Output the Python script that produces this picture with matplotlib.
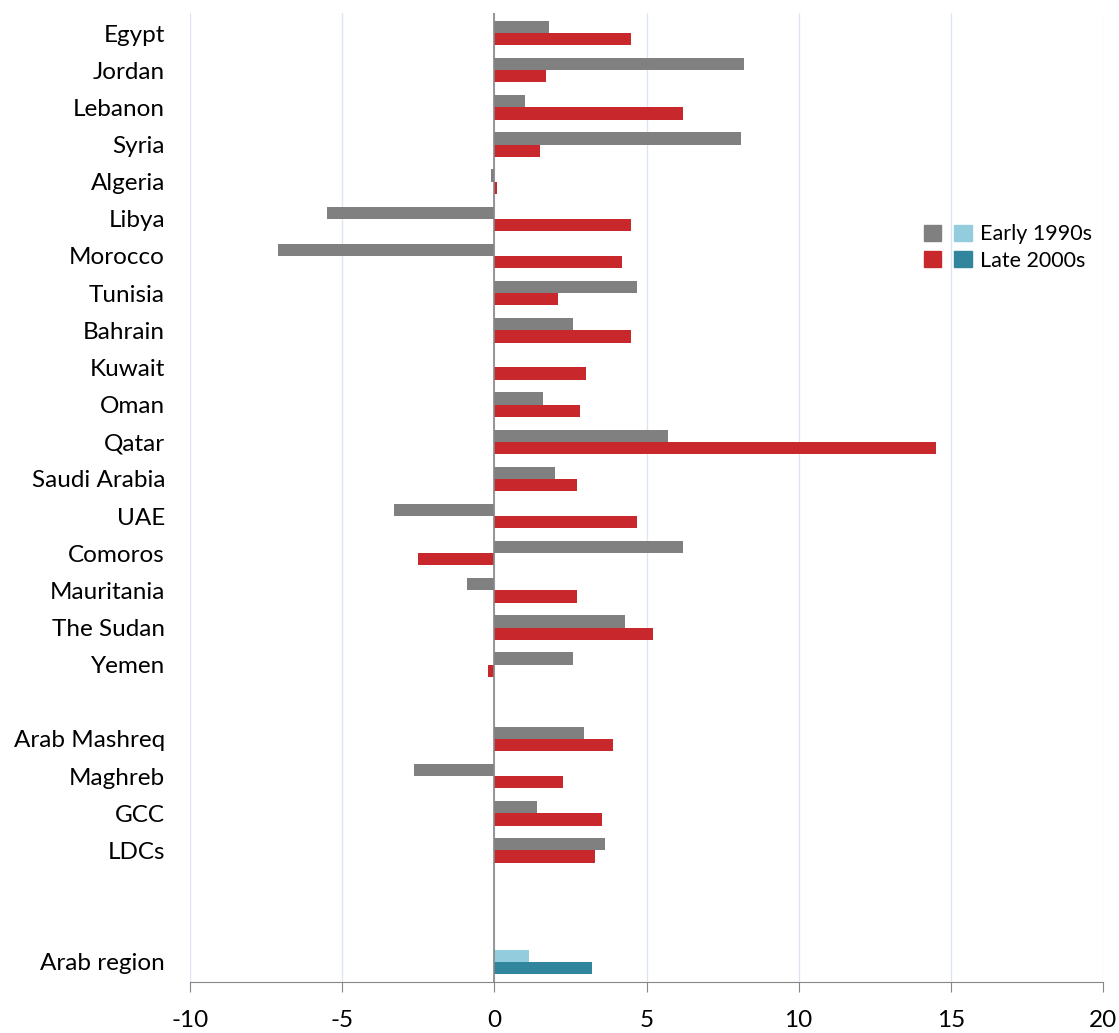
import matplotlib
matplotlib.use("Agg")
import matplotlib.pyplot as plt
from matplotlib.patches import Patch
from matplotlib.legend_handler import HandlerTuple

plt.rcParams['font.family'] = ['Lato', 'DejaVu Sans']

# categories, top to bottom (None = empty row)
categories = ["Egypt", "Jordan", "Lebanon", "Syria", "Algeria", "Libya", "Morocco",
              "Tunisia", "Bahrain", "Kuwait", "Oman", "Qatar", "Saudi Arabia", "UAE",
              "Comoros", "Mauritania", "The Sudan", "Yemen", None,
              "Arab Mashreq", "Maghreb", "GCC", "LDCs", None, None, "Arab region"]

early_1990s = [1.8, 8.2, 1.0, 8.1, -0.1, -5.5, -7.1, 4.7, 2.6, 0.0, 1.6, 5.7, 2.0, -3.3,
               6.2, -0.9, 4.3, 2.6, None, 2.95, -2.65, 1.4, 3.65, None, None, 1.15]
late_2000s = [4.5, 1.7, 6.2, 1.5, 0.1, 4.5, 4.2, 2.1, 4.5, 3.0, 2.8, 14.5, 2.7, 4.7,
              -2.5, 2.7, 5.2, -0.2, None, 3.9, 2.25, 3.55, 3.3, None, None, 3.2]

xticks = [-10, -5, 0, 5, 10, 15, 20]

gray = "#808080"
red = "#C8282C"
lblue = "#93CDDD"
teal = "#31859C"

fig = plt.figure(figsize=(11.19, 10.33), dpi=100)
ax = fig.add_axes([0.1698, 0.0494, 0.8159, 0.938])

h = 0.33
for i, (name, e, l) in enumerate(zip(categories, early_1990s, late_2000s)):
    if name is None:
        continue
    c1, c2 = (lblue, teal) if name == "Arab region" else (gray, red)
    ax.barh(i - h / 2, e, height=h, color=c1)
    ax.barh(i + h / 2, l, height=h, color=c2)

rows = [i for i, n in enumerate(categories) if n is not None]
ax.set_yticks(rows)
ax.set_yticklabels([categories[i] for i in rows], fontsize=17.5)
ax.tick_params(axis='y', length=0, pad=18)
ax.set_ylim(len(categories) - 0.46, -0.54)

ax.set_xlim(-10, 20)
ax.set_xticks(xticks)
ax.set_xticklabels([str(t) for t in xticks], fontsize=17.5)
ax.tick_params(axis='x', direction='out', length=7, color="#868686", pad=13)

ax.grid(axis='x', color="#DCE6F2", linewidth=1)
ax.set_axisbelow(True)
for s in ["top", "right", "left"]:
    ax.spines[s].set_visible(False)
ax.spines["bottom"].set_color("#868686")
ax.axvline(0, color="#868686", linewidth=1.2, zorder=3)

handles = [(Patch(color=gray), Patch(color=lblue)), (Patch(color=red), Patch(color=teal))]
ax.legend(handles, ["Early 1990s", "Late 2000s"],
          handler_map={tuple: HandlerTuple(ndivide=None, pad=0.6)},
          loc="upper left", bbox_to_anchor=(0.783, 0.802), frameon=False, fontsize=15.5,
          handlelength=2.2, handleheight=0.8, handletextpad=0.4, labelspacing=0.3)

fig.savefig("out.png", dpi=100)
